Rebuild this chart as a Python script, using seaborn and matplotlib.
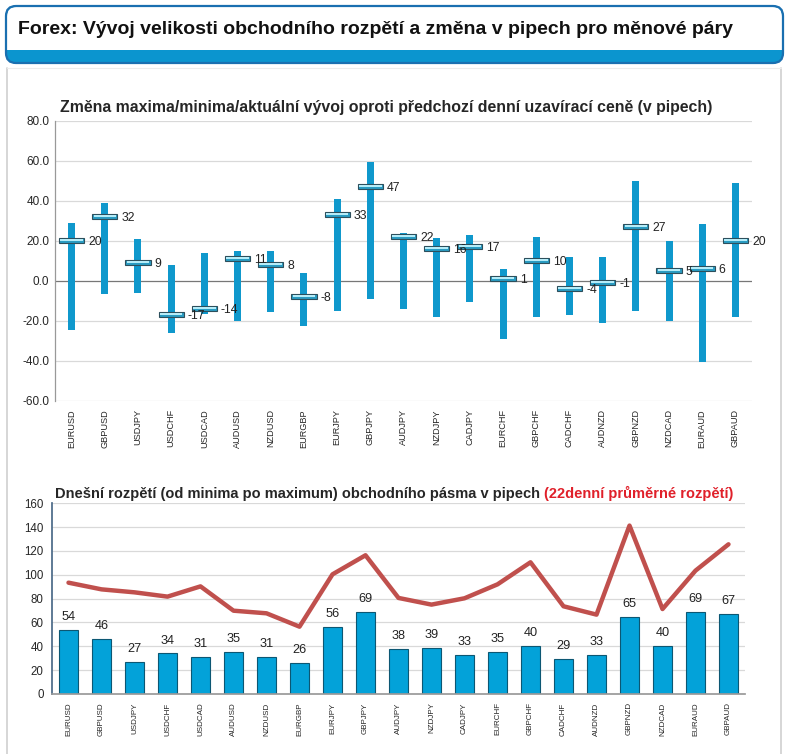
import numpy as np
import matplotlib
matplotlib.use("Agg")
import matplotlib.pyplot as plt
import seaborn as sns
from matplotlib.patches import FancyBboxPatch, Rectangle

# ---------------- data ----------------
pairs = ["EURUSD", "GBPUSD", "USDJPY", "USDCHF", "USDCAD", "AUDUSD", "NZDUSD",
         "EURGBP", "EURJPY", "GBPJPY", "AUDJPY", "NZDJPY", "CADJPY", "EURCHF",
         "GBPCHF", "CADCHF", "AUDNZD", "GBPNZD", "NZDCAD", "EURAUD", "GBPAUD"]

# change vs previous daily close (pips)
high = [28.8, 39, 21, 8, 13.8, 15, 15, 4, 41, 59.5,
        24, 21.5, 23, 6, 22, 12, 12, 50, 20, 28.5, 49]
low = [-24.8, -6.8, -6, -26, -16.8, -20, -15.8, -22.5, -15, -9,
       -14, -18, -10.5, -29, -18, -17, -21, -15, -20, -40.5, -18]
current = [20, 32, 9, -17, -14, 11, 8, -8, 33, 47,
           22, 16, 17, 1, 10, -4, -1, 27, 5, 6, 20]

# today's range and 22-day average range (pips)
today_range = [54, 46, 27, 34, 31, 35, 31, 26, 56, 69,
               38, 39, 33, 35, 40, 29, 33, 65, 40, 69, 67]
avg22 = [93.4, 87.8, 85.3, 81.7, 90.3, 69.9, 67.7, 56.5, 100.4, 116.4,
         80.6, 75, 80.3, 92, 110.5, 73.6, 66.6, 141.3, 71.3, 103.5, 125.6]

# ---------------- style ----------------
sns.set_theme(style="white")
plt.rcParams["font.family"] = ["Liberation Sans", "DejaVu Sans"]

W, H = 790, 754
fig = plt.figure(figsize=(W / 100, H / 100), dpi=100)
fig.patch.set_facecolor("white")


def box(l, t, r, b):
    return [l / W, 1 - b / H, (r - l) / W, (b - t) / H]


# background layer in pixel coordinates
bg = fig.add_axes([0, 0, 1, 1], zorder=-1)
bg.set_xlim(0, W)
bg.set_ylim(H, 0)
bg.axis("off")

frame_blue = "#1a6fb0"
strip_blue = "#0b95cf"
bg.add_patch(FancyBboxPatch((6, 6), 777, 57, boxstyle="round,pad=0,rounding_size=10",
                            facecolor=strip_blue, edgecolor="none"))
bg.add_patch(FancyBboxPatch((7, 7), 775, 38, boxstyle="round,pad=0,rounding_size=9",
                            facecolor="white", edgecolor="none"))
bg.add_patch(Rectangle((7, 20), 775, 30, facecolor="white", edgecolor="none"))
bg.add_patch(FancyBboxPatch((6, 6), 777, 57, boxstyle="round,pad=0,rounding_size=10",
                            facecolor="none", edgecolor=frame_blue, linewidth=1.6))
bg.text(18, 30, "Forex: Vývoj velikosti obchodního rozpětí a změna v pipech pro měnové páry",
        fontsize=14, fontweight="bold", color="#111111", va="center", ha="left")

# outer panel borders
bg.plot([7, 7], [68, 754], color="#cfcfcf", linewidth=1.2)
bg.plot([781, 781], [68, 754], color="#cfcfcf", linewidth=1.2)
bg.plot([7, 781], [68, 68], color="#ececec", linewidth=0.8)

x = np.arange(len(pairs))

# ---------------- top chart: high/low/current ----------------
ax1 = fig.add_axes(box(55, 120.7, 752, 400.7))
ax1.set_xlim(-0.5, len(pairs) - 0.5)
ax1.set_ylim(-60, 80)
ax1.set_yticks(np.arange(-60, 81, 20))
ax1.set_yticklabels([f"{v:.1f}" for v in np.arange(-60, 81, 20)], fontsize=8.5)
for v in np.arange(-60, 81, 20):
    ax1.axhline(v, color="#777777" if v == 0 else "#d9d9d9", linewidth=0.9, zorder=0)
for s in ["top", "right", "bottom"]:
    ax1.spines[s].set_visible(False)
ax1.spines["left"].set_color("#999999")
ax1.spines["left"].set_linewidth(0.9)
ax1.tick_params(axis="both", length=0, pad=4)

rng = np.array(high) - np.array(low)
ax1.bar(x, rng, bottom=low, width=0.21, color="#0f98cc", edgecolor="none", zorder=2)
cur = np.array(current, dtype=float)
ax1.bar(x, 2.6, bottom=cur - 1.3, width=0.76, color="#2a9cc2",
        edgecolor="#2d4f5c", linewidth=0.8, zorder=3)
ax1.bar(x, 0.9, bottom=cur - 0.1, width=0.68, color="#b5ecf8",
        edgecolor="none", zorder=4)
for xi, c in zip(x, current):
    ax1.text(xi + 0.5, c - 0.5, f"{c}", fontsize=8.8, va="center", ha="left", color="#222222")

ax1.set_xticks(x)
ax1.set_xticklabels(pairs, rotation=90, fontsize=6.6)
ax1.tick_params(axis="x", pad=6)
ax1.set_facecolor("none")
ax1.text(0.007, 1.047, "Změna maxima/minima/aktuální vývoj oproti předchozí denní uzavírací ceně (v pipech)",
         transform=ax1.transAxes, fontsize=11.4, fontweight="bold", va="center", ha="left")

# ---------------- bottom chart: today's range vs 22-day average ----------------
ax2 = fig.add_axes(box(52, 503.3, 745, 694))
sns.barplot(x=pairs, y=today_range, color="#03a2d9", edgecolor="#0c5773",
            linewidth=0.8, width=0.58, saturation=1, ax=ax2, zorder=2)
ax2.plot(x, avg22, color="#c0504d", linewidth=3.2, solid_capstyle="round", zorder=3)
ax2.set_xlim(-0.5, len(pairs) - 0.5)
ax2.set_ylim(0, 160)
ax2.set_yticks(np.arange(0, 161, 20))
ax2.tick_params(axis="y", labelsize=8.3, length=3, color="#4b6a88", direction="out", pad=3)
for v in np.arange(20, 161, 20):
    ax2.axhline(v, color="#d9d9d9", linewidth=0.9, zorder=0)
for s in ["top", "right"]:
    ax2.spines[s].set_visible(False)
ax2.spines["left"].set_color("#4b6a88")
ax2.spines["bottom"].set_color("#999999")
ax2.set_xticks(x)
ax2.set_xticklabels(pairs, rotation=90, fontsize=5.8)
ax2.set_xticks(np.arange(-0.5, len(pairs), 1), minor=True)
ax2.tick_params(axis="x", which="major", length=0, pad=6)
ax2.tick_params(axis="x", which="minor", length=4, color="#999999", direction="out")
ax2.set_xlabel("")
ax2.set_ylabel("")
for xi, r in zip(x, today_range):
    ax2.annotate(f"{r}", (xi, r), xytext=(0, 5), textcoords="offset points",
                 ha="center", va="bottom", fontsize=9.2, color="#222222")

t1 = ax2.text(0.004, 1.05, "Dnešní rozpětí (od minima po maximum) obchodního pásma v pipech ",
              transform=ax2.transAxes, fontsize=10.5, fontweight="bold", va="center", ha="left")
ax2.annotate("(22denní průměrné rozpětí)", xy=(1, 0.5), xycoords=t1, va="center", ha="left",
             fontsize=10.5, fontweight="bold", color="#e0202a")

fig.savefig("out.png", dpi=100)
